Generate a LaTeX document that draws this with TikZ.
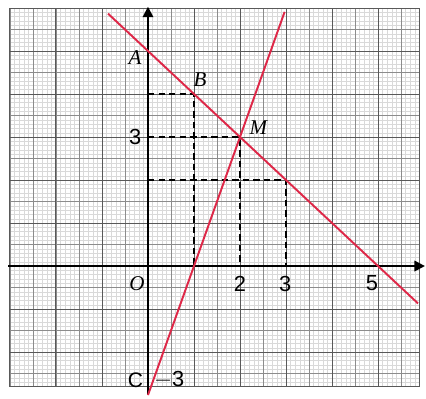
\documentclass[tikz,border=0pt]{standalone}
\usepackage{fontspec}
\setmainfont{Liberation Serif}
\newfontfamily\digitfont{Liberation Sans}
\usetikzlibrary{arrows.meta}
\definecolor{redline}{RGB}{222,40,72}
\tikzset{
  minorgrid/.style={draw=gray!30,line width=0.25pt},
  midgrid/.style={draw=black!45,line width=0.45pt},
  majorgrid/.style={draw=black!65,line width=0.6pt},
  axisline/.style={draw=black,line width=1.1pt,-{Triangle[length=6.5pt,width=6.5pt]}},
  redl/.style={draw=redline,line width=1.2pt},
  dashl/.style={draw=black,line width=1.5pt,dash pattern=on 4pt off 2.5pt},
  ptlabel/.style={font=\fontsize{13}{15}\selectfont\itshape,inner sep=0pt},
  numlabel/.style={font=\fontsize{13.5}{15}\selectfont\digitfont,inner sep=0pt}
}
\begin{document}
\begin{tikzpicture}[x=1cm,y=0.9348cm]
\useasboundingbox (-3.217,-3.07) rectangle (6.043,6.186);
% grid
\draw[minorgrid,step=0.1] (-3,-2.8) grid (5.9,6.0);
\draw[midgrid,step=0.5] (-3,-2.8) grid (5.9,6.0);
\draw[majorgrid,step=1] (-3,-2.8) grid (5.9,6.0);
\draw[majorgrid] (-3,-2.8) rectangle (5.9,6.0);
% coordinates
\coordinate (O) at (0,0);
\coordinate (A) at (0,5);
\coordinate (B) at (1,4);
\coordinate (M) at (2,3);
\coordinate (P) at (3,2);
\coordinate (C) at (0,-3);
\coordinate (Y4) at (0,4);
\coordinate (Y3) at (0,3);
\coordinate (Y2) at (0,2);
\coordinate (X1) at (1,0);
\coordinate (X2) at (2,0);
\coordinate (X3) at (3,0);
\coordinate (L1s) at (-0.87,5.87);
\coordinate (L1e) at (5.87,-0.87);
\coordinate (L2e) at (2.97,5.91);
\coordinate (XL) at (-3.04,0);
\coordinate (XR) at (6.02,0);
\coordinate (YT) at (0,6.03);
% dashed
\draw[dashl] (Y4) -- (B) -- (X1);
\draw[dashl] (Y3) -- (M) -- (X2);
\draw[dashl] (Y2) -- (P) -- (X3);
% axes
\draw[axisline] (XL) -- (XR);
\draw[axisline] (C) -- (YT);
% red lines
\draw[redl] (L1s) -- (L1e);
\draw[redl] (C) -- (L2e);
% labels
\node[ptlabel] (lA) at (-0.28,4.84) {A};
\node[ptlabel] (lB) at (1.13,4.33) {B};
\node[ptlabel] (lM) at (2.4,3.21) {M};
\node[ptlabel] (lO) at (-0.24,-0.4) {O};
\node[ptlabel,font=\fontsize{13}{15}\selectfont\upshape\digitfont] (lC) at (-0.27,-2.65) {C};
\node[numlabel] (l3y) at (-0.28,3.0) {3};
\node[numlabel] (l2) at (2,-0.42) {2};
\node[numlabel] (l3) at (2.98,-0.42) {3};
\node[numlabel] (l5) at (4.87,-0.4) {5};
\node[numlabel] (lm3) at (0.46,-2.65) {$-$3};
\end{tikzpicture}
\end{document}
